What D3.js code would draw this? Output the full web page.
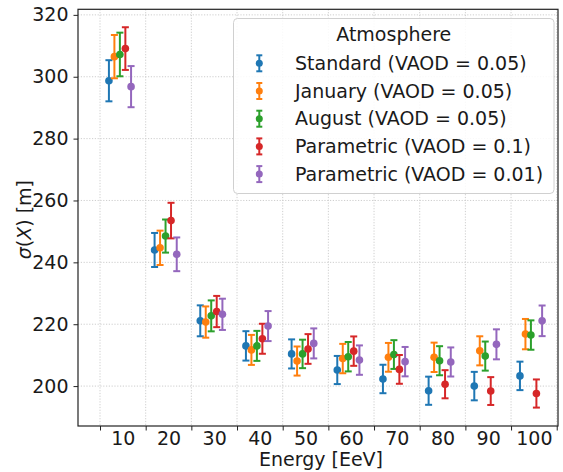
<!DOCTYPE html>
<html>
<head>
<meta charset="utf-8">
<script src="https://cdn.jsdelivr.net/npm/d3@7"></script>
<style>
  body { margin: 0; background: #fff; }
  svg { font-family: "DejaVu Sans", sans-serif; }
</style>
</head>
<body>
<svg width="563" height="472"></svg>
<script>
var energies = [10, 20, 30, 40, 50, 60, 70, 80, 90, 100]
var seriesNames = ["Standard (VAOD = 0.05)", "January (VAOD = 0.05)", "August (VAOD = 0.05)",
                   "Parametric (VAOD = 0.1)", "Parametric (VAOD = 0.01)"]
var colors = ["#1f77b4", "#ff7f0e", "#2ca02c", "#d62728", "#9467bd"]

var standardVals = [298.7, 244.0, 221.1, 213.0, 210.4, 205.2, 202.3, 198.5, 200.0, 203.3]
var standardErr  = [6.65, 5.5, 5.0, 4.75, 4.7, 4.55, 4.6, 4.55, 4.6, 4.6]
var januaryVals  = [306.5, 244.7, 220.7, 211.7, 208.1, 208.9, 209.3, 209.3, 211.4, 216.8]
var januaryErr   = [7.0, 5.55, 5.05, 4.85, 4.7, 4.75, 4.65, 4.75, 4.7, 4.9]
var augustVals   = [307.2, 248.5, 222.7, 213.0, 210.4, 209.5, 210.2, 208.2, 209.7, 216.5]
var augustErr    = [7.05, 5.35, 5.0, 4.85, 4.6, 4.75, 4.65, 4.7, 4.7, 4.75]
var param01Vals  = [309.1, 253.5, 224.1, 215.3, 212.0, 211.3, 205.4, 200.6, 198.4, 197.6]
var param01Err   = [6.9, 5.75, 5.05, 4.85, 4.8, 4.75, 4.65, 4.55, 4.5, 4.55]
var param001Vals = [296.8, 242.6, 223.2, 219.4, 213.8, 208.4, 207.9, 207.8, 213.5, 221.1]
var param001Err  = [6.65, 5.45, 5.05, 4.85, 4.85, 4.75, 4.75, 4.7, 4.85, 4.95]

var yTicks = [200, 220, 240, 260, 280, 300, 320]
var xBoundaries = [5, 15, 25, 35, 45, 55, 65, 75, 85, 95, 105]

var allVals = [standardVals, januaryVals, augustVals, param01Vals, param001Vals]
var allErr = [standardErr, januaryErr, augustErr, param01Err, param001Err]

// horizontal shift of each series inside a group (energy units)
var dodge = [-3.05, -1.85, -0.65, 0.55, 1.8]

var svg = d3.select('svg')
var pL = 78, pR = 558, pT = 9.3, pB = 426

var x = d3.scaleLinear().domain([0.18, 105.28]).range([pL, pR])
var y = d3.scaleLinear().domain([187.1, 321.8]).range([pB, pT])

// grid
var grid = svg.append('g').attr('class', 'grid')
grid.selectAll('line.gx')
  .data(xBoundaries)
  .enter().append('line')
    .attr('x1', d => x(d)).attr('x2', d => x(d))
    .attr('y1', pT).attr('y2', pB)
grid.selectAll('line.gy')
  .data(yTicks)
  .enter().append('line')
    .attr('x1', pL).attr('x2', pR)
    .attr('y1', d => y(d)).attr('y2', d => y(d))
grid.selectAll('line')
  .attr('stroke', '#c8c8c8')
  .attr('stroke-width', 0.9)
  .attr('stroke-dasharray', '1.2,1.6')

// error bars
var series = seriesNames.map(function (name, i) {
  return energies.map(function (e, j) {
    return { e: e, v: allVals[i][j], err: allErr[i][j], i: i }
  })
})

var capW = 3.5
var marks = svg.append('g')
series.forEach(function (s, i) {
  var g = marks.append('g').attr('stroke', colors[i]).attr('fill', colors[i])
  var pts = g.selectAll('g').data(s).enter().append('g')
  pts.append('line')
    .attr('x1', d => x(d.e + dodge[i])).attr('x2', d => x(d.e + dodge[i]))
    .attr('y1', d => y(d.v - d.err)).attr('y2', d => y(d.v + d.err))
    .attr('stroke-width', 2)
  pts.append('line')
    .attr('x1', d => x(d.e + dodge[i]) - capW).attr('x2', d => x(d.e + dodge[i]) + capW)
    .attr('y1', d => y(d.v + d.err)).attr('y2', d => y(d.v + d.err))
    .attr('stroke-width', 2)
  pts.append('line')
    .attr('x1', d => x(d.e + dodge[i]) - capW).attr('x2', d => x(d.e + dodge[i]) + capW)
    .attr('y1', d => y(d.v - d.err)).attr('y2', d => y(d.v - d.err))
    .attr('stroke-width', 2)
  pts.append('circle')
    .attr('cx', d => x(d.e + dodge[i]))
    .attr('cy', d => y(d.v))
    .attr('r', 3.8)
    .attr('stroke', 'none')
})

// axes
var fs = '19px'
svg.append('g')
  .attr('transform', `translate(${pL},0)`)
  .call(d3.axisLeft(y).tickValues(yTicks).tickSize(4.5).tickPadding(5))
svg.append('g')
  .attr('transform', `translate(0,${pB})`)
  .call(d3.axisBottom(x).tickValues(xBoundaries).tickSize(4.5).tickFormat(''))
svg.append('g')
  .attr('transform', `translate(0,${pB})`)
  .call(d3.axisBottom(x).tickValues(energies).tickSize(0).tickPadding(6).tickFormat(d3.format('d')))
svg.selectAll('.domain').remove()
svg.selectAll('.tick line').attr('stroke', '#222').attr('stroke-width', 1)
svg.selectAll('.tick text')
  .attr('font-family', '"DejaVu Sans", sans-serif')
  .attr('font-size', fs)
  .attr('fill', '#1a1a1a')

// spines
svg.append('rect')
  .attr('x', pL).attr('y', pT)
  .attr('width', pR - pL).attr('height', pB - pT)
  .attr('fill', 'none').attr('stroke', '#222').attr('stroke-width', 1.2)

// axis titles
svg.append('text')
  .attr('x', (pL + pR) / 2 + 3).attr('y', 466)
  .attr('text-anchor', 'middle')
  .attr('font-size', fs).attr('fill', '#1a1a1a')
  .text('Energy [EeV]')

var yt = svg.append('text')
  .attr('transform', `translate(31,${(pT + pB) / 2 + 2}) rotate(-90)`)
  .attr('text-anchor', 'middle')
  .attr('font-size', fs).attr('fill', '#1a1a1a')
yt.append('tspan').attr('font-style', 'italic').text('σ')
yt.append('tspan').text('(')
yt.append('tspan').attr('font-style', 'italic').text('X')
yt.append('tspan').text(') [m]')

// legend
var lg = svg.append('g').attr('transform', 'translate(233.5,18.5)')
lg.append('rect')
  .attr('width', 320.5).attr('height', 175)
  .attr('rx', 4)
  .attr('fill', 'white').attr('fill-opacity', 0.85)
  .attr('stroke', '#d0d0d0').attr('stroke-width', 1)
lg.append('text')
  .attr('x', 160.25).attr('y', 22)
  .attr('text-anchor', 'middle')
  .attr('font-size', fs).attr('fill', '#1a1a1a')
  .text('Atmosphere')
var rows = lg.selectAll('g.row')
  .data(seriesNames)
  .enter().append('g')
    .attr('transform', (d, i) => `translate(0,${44.8 + i * 27.7})`)
rows.append('line')
  .attr('x1', 25.8).attr('x2', 25.8).attr('y1', -8).attr('y2', 8)
  .attr('stroke', (d, i) => colors[i]).attr('stroke-width', 2)
rows.append('line')
  .attr('x1', 22.8).attr('x2', 28.8).attr('y1', -8).attr('y2', -8)
  .attr('stroke', (d, i) => colors[i]).attr('stroke-width', 2)
rows.append('line')
  .attr('x1', 22.8).attr('x2', 28.8).attr('y1', 8).attr('y2', 8)
  .attr('stroke', (d, i) => colors[i]).attr('stroke-width', 2)
rows.append('circle')
  .attr('cx', 25.8).attr('cy', 0).attr('r', 3.5)
  .attr('fill', (d, i) => colors[i])
rows.append('text')
  .attr('x', 61.5).attr('y', 6.7)
  .attr('font-size', fs).attr('fill', '#1a1a1a')
  .text(d => d)
</script>
</body>
</html>
